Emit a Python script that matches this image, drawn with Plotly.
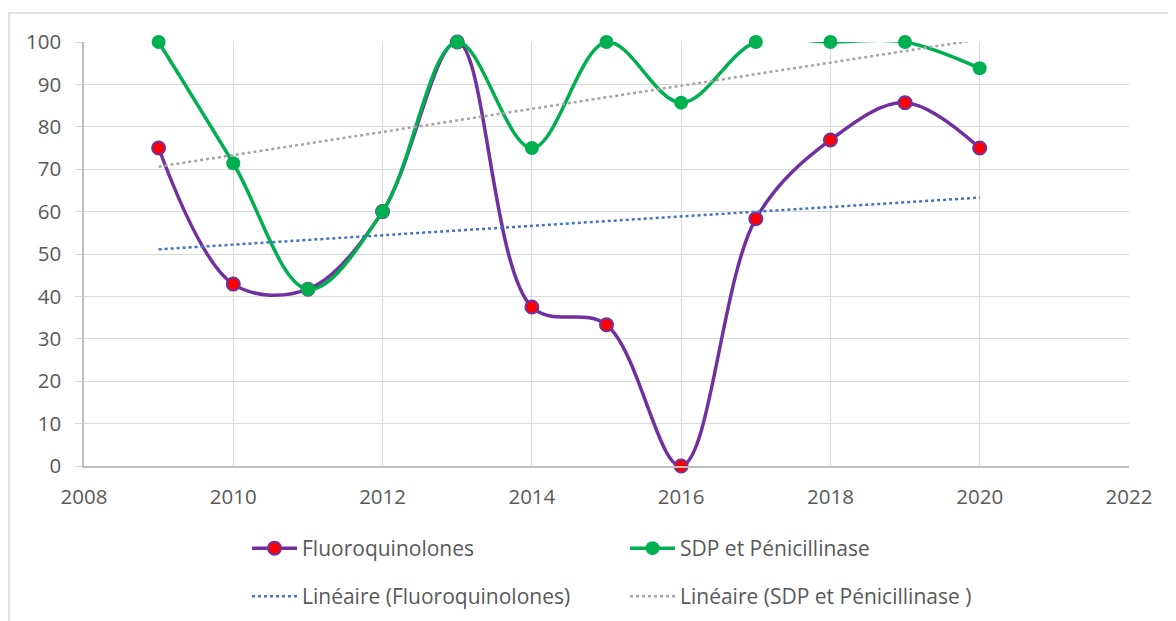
import plotly.graph_objects as go

years = [2009, 2010, 2011, 2012, 2013, 2014, 2015, 2016, 2017, 2018, 2019, 2020]
fluoro = [75, 42.9, 41.7, 60, 100, 37.5, 33.3, 0, 58.3, 76.9, 85.7, 75]
sdp = [100, 71.4, 41.7, 60, 100, 75, 100, 85.7, 100, 100, 100, 93.8]
trend_years = [2009, 2020]
trend_fluoro = [51.1, 63.3]
trend_sdp = [70.6, 100.6]

x_ticks = [2008, 2010, 2012, 2014, 2016, 2018, 2020, 2022]
y_ticks = [0, 10, 20, 30, 40, 50, 60, 70, 80, 90, 100]

FONT = "Open Sans"
fig = go.Figure()

fig.add_trace(go.Scatter(
    x=years, y=fluoro, name="Fluoroquinolones", mode="lines+markers",
    line=dict(color="#7030A0", width=3.5, shape="spline", smoothing=1.0),
    marker=dict(color="#FF0000", size=13, line=dict(color="#7030A0", width=2)),
    legend="legend", cliponaxis=False,
))
fig.add_trace(go.Scatter(
    x=years, y=sdp, name="SDP et Pénicillinase", mode="lines+markers",
    line=dict(color="#00B050", width=3.5, shape="spline", smoothing=1.0),
    marker=dict(color="#00B050", size=14),
    legend="legend", cliponaxis=False,
))
fig.add_trace(go.Scatter(
    x=trend_years, y=trend_fluoro, name="Linéaire (Fluoroquinolones)", mode="lines",
    line=dict(color="#4472C4", width=2.5, dash="dot"),
    legend="legend2",
))
fig.add_trace(go.Scatter(
    x=trend_years, y=trend_sdp, name="Linéaire (SDP et Pénicillinase )", mode="lines",
    line=dict(color="#A5A5A5", width=2.5, dash="dot"),
    legend="legend2",
))

legend_common = dict(
    orientation="h", x=0.156, xanchor="left", yanchor="top", yref="container",
    entrywidth=318, entrywidthmode="pixels",
    font=dict(size=21, color="#595959", family=FONT),
    itemwidth=45, bgcolor="rgba(0,0,0,0)",
)

fig.update_layout(
    width=1168, height=613,
    margin=dict(l=76, r=47, t=34, b=155),
    paper_bgcolor="white", plot_bgcolor="white",
    font=dict(family=FONT, color="#595959", size=20),
    showlegend=True,
    legend=dict(legend_common, y=0.1517),
    legend2=dict(legend_common, y=0.0734),
    xaxis=dict(
        range=[2008, 2022], tickvals=x_ticks, ticktext=[str(v) for v in x_ticks],
        showgrid=True, gridcolor="#D9D9D9", gridwidth=1,
        showline=True, linecolor="#BFBFBF", linewidth=1.5,
        ticks="", zeroline=False, ticklabelstandoff=12,
        tickfont=dict(size=20.5, color="#595959"),
    ),
    yaxis=dict(
        range=[0, 100], tickvals=y_ticks,
        showgrid=True, gridcolor="#D9D9D9", gridwidth=1,
        showline=True, linecolor="#BFBFBF", linewidth=1.5,
        ticks="outside", ticklen=7, tickcolor="#D9D9D9", tickwidth=1,
        ticklabelstandoff=10,
        zeroline=False, tickfont=dict(size=20.5, color="#595959"),
    ),
    shapes=[dict(
        type="rect", xref="paper", yref="paper",
        x0=-0.0718, x1=1.2, y0=-0.6, y1=1.0684,
        line=dict(color="#D9D9D9", width=1.5), fillcolor="rgba(0,0,0,0)", layer="below",
    )],
)

fig.write_html("out.html")
